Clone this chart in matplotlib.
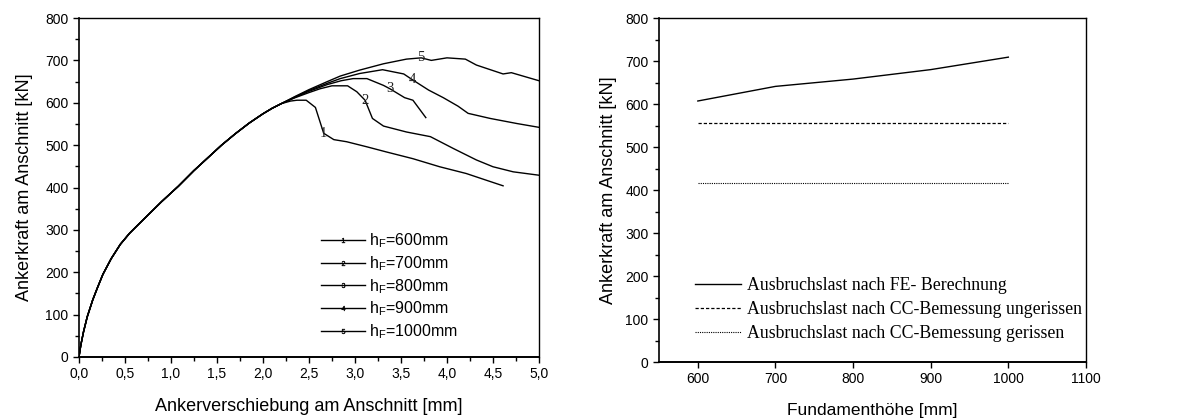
import matplotlib
matplotlib.use("Agg")
import matplotlib.pyplot as plt
import numpy as np
from matplotlib.lines import Line2D
from matplotlib.ticker import MultipleLocator, FuncFormatter

plt.rcParams['font.family'] = ['Liberation Sans', 'DejaVu Sans']
plt.rcParams['mathtext.fontset'] = 'custom'
plt.rcParams['mathtext.rm'] = 'Liberation Sans'
plt.rcParams['mathtext.it'] = 'Liberation Sans'

# ---- load-displacement curves (shared rising branch) ----
x_base = [0.0, 0.02, 0.05, 0.09, 0.15, 0.2, 0.26, 0.35, 0.45, 0.55, 0.61, 0.75, 0.9, 1.08,
          1.25, 1.4, 1.55, 1.7, 1.85, 2.0, 2.1, 2.2]
y_base = [0, 28, 60, 95, 135, 163, 195, 232, 266, 292, 305, 335, 367, 403,
          440, 470, 500, 527, 552, 574, 587, 598]

# individual branches after the curves separate
x_600 = [2.3, 2.37, 2.47, 2.57, 2.66, 2.77, 2.91, 3.13, 3.34, 3.63, 3.92, 4.21, 4.43, 4.61]
y_600 = [604, 606, 606, 589, 528, 513, 508, 496, 484, 468, 449, 433, 417, 404]
x_700 = [2.35, 2.5, 2.62, 2.75, 2.92, 3.02, 3.11, 3.19, 3.31, 3.56, 3.82, 4.07, 4.32, 4.5, 4.72, 5.0]
y_700 = [612, 624, 633, 640, 640, 626, 606, 563, 545, 531, 520, 492, 465, 449, 437, 429]
x_800 = [2.35, 2.5, 2.7, 2.85, 2.98, 3.13, 3.31, 3.38, 3.54, 3.63, 3.77]
y_800 = [613, 627, 643, 652, 657, 657, 641, 633, 612, 606, 565]
x_900 = [2.35, 2.5, 2.7, 2.84, 3.05, 3.3, 3.53, 3.62, 3.8, 3.96, 4.12, 4.23, 4.47, 4.76, 5.0]
y_900 = [614, 629, 646, 657, 669, 678, 668, 655, 630, 612, 592, 575, 563, 551, 542]
x_1000 = [2.35, 2.5, 2.7, 2.84, 3.05, 3.31, 3.56, 3.72, 3.83, 4.0, 4.2, 4.32, 4.61, 4.7, 5.0]
y_1000 = [615, 631, 650, 663, 677, 692, 703, 706, 700, 706, 703, 689, 668, 671, 652]

curve_ids = ['1', '2', '3', '4', '5']
curve_names = ['600', '700', '800', '900', '1000']
# point index along each branch where the curve number sits
label_idx = [4, 6, 7, 7, 7]

# ---- breakout loads vs. foundation height ----
h_F = [600, 700, 800, 900, 1000]
N_FE = [607, 641, 658, 680, 709]
N_CC_uncracked = [555, 555, 555, 555, 555]
N_CC_cracked = [416, 416, 416, 416, 416]
series_labels = ['Ausbruchslast nach FE- Berechnung',
                 'Ausbruchslast nach CC-Bemessung ungerissen',
                 'Ausbruchslast nach CC-Bemessung gerissen']

fig = plt.figure(figsize=(11.84, 4.19), dpi=100)
ax1 = fig.add_axes([0.0667, 0.148, 0.3885, 0.809])
ax2 = fig.add_axes([0.5566, 0.136, 0.3606, 0.821])

comma = FuncFormatter(lambda v, p: f"{v:.1f}".replace('.', ','))

branches = [(x_600, y_600), (x_700, y_700), (x_800, y_800), (x_900, y_900), (x_1000, y_1000)]
handles = []
for k, (bx, by) in enumerate(branches):
    xs = np.array(x_base + bx)
    ys = np.array(y_base + by)
    ax1.plot(xs, ys, color='black', lw=1.0, solid_joinstyle='round')
    i = label_idx[k]
    ax1.text(bx[i], by[i], curve_ids[k], family=['Liberation Serif'],
             fontsize=10.5, ha='center', va='center', color='#222222')
    handles.append(Line2D([], [], color='black', lw=1.0, marker=f'${curve_ids[k]}$',
                          markersize=3.5, markeredgewidth=0.3))

ax1.legend(handles, [f'h$_\\mathrm{{F}}$={n}mm' for n in curve_names],
           loc='upper left', bbox_to_anchor=(0.527, 0.37), frameon=False,
           fontsize=11.5, handlelength=2.7, handletextpad=0.3, labelspacing=0.25,
           borderpad=0, borderaxespad=0)

ax1.set_xlim(0, 5)
ax1.set_ylim(0, 800)
ax1.xaxis.set_major_locator(MultipleLocator(0.5))
ax1.xaxis.set_minor_locator(MultipleLocator(0.25))
ax1.xaxis.set_major_formatter(comma)
ax1.yaxis.set_major_locator(MultipleLocator(100))
ax1.yaxis.set_minor_locator(MultipleLocator(50))
ax1.set_xlabel('Ankerverschiebung am Anschnitt [mm]', fontsize=13, labelpad=12)
ax1.set_ylabel('Ankerkraft am Anschnitt [kN]', fontsize=13, labelpad=9)

ax2.plot(h_F, N_FE, color='black', lw=1.0, label=series_labels[0])
ax2.plot(h_F, N_CC_uncracked, color='black', lw=0.9, linestyle=(0, (2.6, 1.6)),
         label=series_labels[1])
ax2.plot(h_F, N_CC_cracked, color='black', lw=0.8, linestyle=(0, (1, 1)),
         label=series_labels[2])
ax2.legend(loc='upper left', bbox_to_anchor=(0.085, 0.247), frameon=False,
           prop={'family': 'Liberation Serif', 'size': 12.8},
           handlelength=2.55, handletextpad=0.35, labelspacing=0.4,
           borderpad=0, borderaxespad=0)
ax2.set_xlim(550, 1100)
ax2.set_ylim(0, 800)
ax2.xaxis.set_major_locator(MultipleLocator(100))
ax2.yaxis.set_major_locator(MultipleLocator(100))
ax2.yaxis.set_minor_locator(MultipleLocator(50))
ax2.set_xlabel('Fundamenthöhe [mm]', fontsize=12.5, labelpad=12)
ax2.set_ylabel('Ankerkraft am Anschnitt [kN]', fontsize=13, labelpad=6)

for ax in (ax1, ax2):
    for s in ax.spines.values():
        s.set_linewidth(1.0)
    ax.spines['bottom'].set_linewidth(1.4)
    ax.spines['left'].set_linewidth(1.2)
    ax.tick_params(which='both', direction='out', top=False, right=False,
                   labelsize=10, width=1.0, pad=3)
    ax.tick_params(which='major', length=4.5)
    ax.tick_params(which='minor', length=3)

fig.savefig('out.png', dpi=100)
